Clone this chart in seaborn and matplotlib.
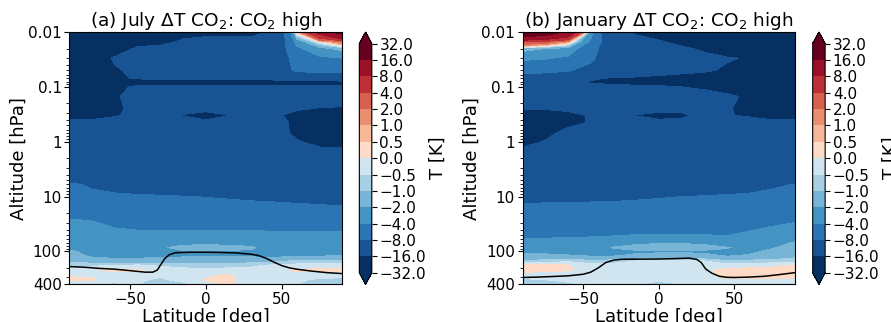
import numpy as np
import matplotlib
matplotlib.use("Agg")
import matplotlib.pyplot as plt
import seaborn as sns
from matplotlib.colors import ListedColormap, BoundaryNorm

# ---------------- data ----------------
lat = [-90, -75, -60, -45, -30, -15, 0, 15, 30, 45, 60, 75, 90]
pres = [0.01, 0.015, 0.02, 0.03, 0.05, 0.07, 0.085, 0.1, 0.15, 0.25, 0.33, 0.45,
        0.7, 1, 1.5, 3, 6, 10, 20, 30, 45, 70, 85, 100, 120, 150, 180, 220, 270,
        330, 400]

levels = [-32, -16, -8, -4, -2, -1, -0.5, 0, 0.5, 1, 2, 4, 8, 16, 32]

dT_july = [
    [-22, -22, -22, -21, -20, -18, -17.5, -17.5, -17.5, -15, 0.5, 10, 20],
    [-22, -22, -22, -18, -18, -15, -14, -14, -14, -13, -3, 0, 2],
    [-22, -22, -20, -15, -14, -13, -13, -13, -13, -12, -4.5, -2.5, -1.5],
    [-22, -22, -15, -13, -13, -13, -13, -13, -12, -12, -6, -4.5, -4],
    [-22, -21, -17, -14, -13, -13, -13, -12, -12, -12, -7, -7, -7],
    [-22, -20, -17, -15.5, -15, -15, -15, -15, -14.5, -14, -13, -12, -11],
    [-22, -22, -21, -20, -20, -20, -20, -20, -20, -20, -20, -20, -20],
    [-22, -22, -19, -14, -13, -13, -13, -13, -13, -13, -13, -13, -13],
    [-22, -22, -17, -13, -12, -12, -12, -12, -12, -12, -12, -12, -12],
    [-22, -22, -18, -13, -13, -13, -13, -13, -13, -13, -15, -16.5, -17],
    [-22, -22, -17, -13, -13, -16.5, -20, -16.2, -13, -14, -19, -20, -20],
    [-11, -11, -11, -12, -12, -12, -13, -12, -12, -12.5, -18, -20, -20],
    [-12, -12, -12, -12, -12, -12, -12, -12, -12, -12, -18, -20, -20],
    [-12, -12, -12, -12, -12, -12, -12, -12, -12, -12, -15, -19, -20],
    [-12, -12, -12, -12, -12, -12, -12, -12, -12, -12, -12, -13, -13],
    [-11.5, -11.5, -11.5, -11.5, -11.5, -11.5, -11.5, -11.5, -11.5, -11.5, -11.5, -11.5, -11.5],
    [-7.5, -8.5, -9.5, -10, -10, -10.5, -11, -11, -11, -11, -11, -11, -11],
    [-6.8, -7, -7.2, -7.5, -7.7, -7.9, -8.1, -8.3, -8.5, -8.7, -8.9, -9.1, -9.3],
    [-4.5, -4.8, -5.5, -5.5, -5.5, -5.5, -5.5, -5.8, -6, -6, -6.2, -6.4, -6.6],
    [-3.6, -3.8, -4.5, -4.6, -4.6, -4.6, -4.6, -4.6, -4.7, -4.8, -4.9, -5, -5],
    [-3.2, -3.3, -3.5, -3.8, -3.8, -3.8, -3.8, -3.8, -3.8, -3.9, -3.9, -3.9, -3.9],
    [-2.7, -2.8, -3, -3, -2.8, -2.4, -2.3, -2.4, -2.6, -3, -3.2, -3.2, -3.2],
    [-2.3, -2.5, -2.8, -2.8, -2.2, -1.6, -1.5, -1.6, -1.8, -2.8, -2.9, -2.9, -2.9],
    [-1.9, -2.2, -2.5, -2.6, -2.2, -2.1, -2.1, -2.1, -2.2, -2.6, -2.6, -2.6, -2.6],
    [-1.6, -2.2, -2.4, -2.4, -2.3, -2.2, -2.2, -2.2, -2.2, -2.3, -2.2, -2.1, -2],
    [-1.1, -1.4, -1.6, -1.5, -1.4, -1.3, -1.3, -1.3, -1.3, -1.2, -0.9, -0.8, -0.8],
    [-0.7, -0.6, -0.5, -0.4, -0.6, -0.7, -0.8, -0.7, -0.6, -0.4, -0.3, -0.3, -0.3],
    [-0.3, -0.05, 0.08, 0.06, -0.15, -0.3, -0.4, -0.3, -0.3, -0.2, 0.08, 0.12, 0.12],
    [-0.05, -0.1, -0.25, -0.3, -0.4, -0.3, -0.1, 0.05, -0.3, -0.3, -0.2, -0.25, -0.25],
    [0.1, 0.06, -0.3, -0.4, -0.6, -0.3, 0.05, 0.15, -0.3, -0.3, -0.4, -0.6, -0.7],
    [-0.6, -0.6, -0.6, -0.5, -0.8, -0.7, -0.2, 0.05, -0.3, -0.3, -0.5, -0.8, -0.8],
]

dT_january = [
    [25, 22, 14, -3, -13, -17, -18, -20, -21, -22, -22, -22, -22],
    [4, 3, 1, -4.5, -12, -13, -15.5, -17.5, -19, -21, -22, -22, -22],
    [-1.5, -2, -2.5, -6, -12, -12, -13, -15, -17, -19, -21, -22, -22],
    [-3.5, -3.8, -4.5, -7, -12, -12, -12, -13, -14, -15.5, -16.5, -20, -22],
    [-7, -7, -7.5, -10, -12, -12, -13, -14, -15, -17, -18, -21, -22],
    [-10, -10.5, -13, -15.5, -16.5, -17, -18, -19, -20, -20, -21, -22, -22],
    [-12, -12, -14, -16.5, -17, -18, -18, -19, -20, -21, -21, -22, -22],
    [-12, -12, -12, -13, -14, -14.5, -15, -16, -17, -18, -20, -22, -22],
    [-12, -12, -12, -12, -12, -12, -12, -12, -13, -15, -17, -22, -22],
    [-15.5, -15.5, -14, -12, -12, -12, -13, -13, -12, -15, -19, -22, -22],
    [-20, -20, -19, -15, -12, -16.3, -19, -18, -13, -15.5, -17, -20, -20],
    [-20, -20, -18, -15.5, -12, -12, -13, -12.5, -12, -12, -12, -13, -13],
    [-20, -18.5, -13, -12, -12, -12, -12, -12, -12, -12, -12, -12, -12],
    [-19, -15.5, -12, -12, -12, -12, -12, -12, -12, -12, -12, -12, -12],
    [-13, -12, -12, -12, -12, -12, -12, -12, -12, -12, -12, -12, -12],
    [-11.5, -11.5, -11.5, -11.5, -11.5, -11.5, -11.5, -11.5, -11.5, -11.5, -11.5, -11.5, -11.5],
    [-11, -11, -11, -11, -11, -11, -11, -11, -10.5, -10, -9.5, -8.5, -7.9],
    [-9, -8.9, -8.8, -8.7, -8.6, -8.4, -8.2, -8, -7.8, -7.5, -7.3, -7, -6.5],
    [-6, -6, -6, -6, -6, -6, -6, -5.9, -5.8, -5.6, -5.2, -4.9, -4.6],
    [-5.2, -5.2, -5.2, -5.2, -5.2, -5.2, -5.2, -5.1, -5, -4.9, -4.5, -4.3, -4.0],
    [-4.5, -4.5, -4.5, -4.5, -4.5, -4.4, -4.4, -4.4, -4.4, -4.3, -3.9, -3.4, -2.9],
    [-3.5, -3.5, -3.4, -3.2, -2.8, -2.3, -2.1, -2.1, -2.3, -3.2, -3, -2.4, -1.9],
    [-3.0, -3.0, -3.0, -2.8, -1.9, -1.5, -1.4, -1.4, -1.5, -1.9, -2.4, -2.1, -1.6],
    [-2.3, -2.4, -2.5, -2.6, -2.4, -2.2, -2.2, -2.2, -2.2, -2.3, -2.2, -1.8, -1.4],
    [-1.6, -1.7, -1.9, -2.1, -2.1, -1.8, -1.6, -1.6, -1.7, -2.1, -1.9, -1.5, -1.2],
    [-0.9, -0.8, -0.6, -0.8, -0.7, -0.5, -0.4, -0.4, -0.5, -0.9, -0.8, -0.8, -0.7],
    [0.12, 0.12, 0.05, -0.3, -0.3, -0.3, -0.3, -0.3, -0.3, -0.3, -0.2, -0.1, 0.05],
    [0.15, 0.12, 0.05, -0.2, -0.3, -0.2, -0.2, -0.3, -0.1, 0.15, 0.2, 0.2, 0.2],
    [-0.2, -0.3, -0.3, -0.3, -0.2, -0.2, -0.2, -0.2, -0.1, 0.15, 0.2, 0.2, 0.15],
    [-0.6, -0.5, -0.4, -0.3, -0.3, -0.2, -0.4, -0.3, -0.2, -0.05, -0.05, -0.1, -0.1],
    [-0.8, -0.7, -0.6, -0.4, -0.3, -0.5, -0.7, -0.5, -0.3, -0.3, -0.2, -0.2, -0.3],
]

trop_lat_july = [-90, -80, -70, -60, -50, -40, -35, -32, -30, -27, -24, -20, -10,
                 0, 10, 20, 30, 35, 40, 45, 50, 55, 60, 70, 80, 90]
trop_p_july = [190, 195, 205, 212, 225, 240, 240, 220, 180, 135, 115, 106, 104,
               104, 105, 107, 113, 120, 135, 158, 182, 200, 212, 230, 245, 255]

trop_lat_jan = [-90, -80, -70, -60, -50, -45, -40, -35, -30, -25, -20, -10, 0,
                10, 20, 25, 28, 31, 35, 40, 45, 50, 60, 70, 80, 90]
trop_p_jan = [300, 295, 288, 280, 262, 240, 200, 160, 145, 140, 139, 139, 138,
              136, 133, 140, 160, 210, 250, 285, 298, 300, 295, 285, 265, 245]

titles = ["(a) July \u0394T CO$_2$: CO$_2$ high",
          "(b) January \u0394T CO$_2$: CO$_2$ high"]
ytick_vals = [0.01, 0.1, 1, 10, 100, 400]
ytick_labels = ["0.01", "0.1", "1", "10", "100", "400"]

# ---------------- style ----------------
sns.set_style("ticks", {"axes.edgecolor": "black", "xtick.color": "black",
                        "ytick.color": "black", "text.color": "black",
                        "axes.labelcolor": "black"})
plt.rcParams["font.family"] = ["DejaVu Sans"]
plt.rcParams.update({
    "xtick.direction": "out", "ytick.direction": "out",
    "xtick.major.size": 3.5, "ytick.major.size": 3.5,
    "xtick.minor.size": 2, "ytick.minor.size": 2,
    "xtick.major.pad": 2, "ytick.major.pad": 2,
})

base = sns.color_palette("RdBu_r", as_cmap=True)
steps = np.linspace(0, 1, 16)
cols = base(np.concatenate([steps[:7], steps[9:]]))
cmap = ListedColormap(cols)
cmap.set_under(cols[0])
cmap.set_over(cols[-1])
norm = BoundaryNorm(levels, len(levels) - 1)

fig = plt.figure(figsize=(8.91, 3.22), dpi=100)
ax_pos = [[0.0778, 0.117, 0.3064, 0.7835], [0.5866, 0.117, 0.3056, 0.7835]]
cb_pos = [[0.4033, 0.117, 0.0140, 0.7835], [0.9121, 0.117, 0.0140, 0.7835]]

fields = [dT_july, dT_january]
trops = [(trop_lat_july, trop_p_july), (trop_lat_jan, trop_p_jan)]

LAT, P = np.meshgrid(lat, pres)
for i in range(2):
    ax = fig.add_axes(ax_pos[i])
    cf = ax.contourf(LAT, P, np.array(fields[i]), levels=levels, cmap=cmap,
                     norm=norm, extend="both")
    sns.lineplot(x=trops[i][0], y=trops[i][1], ax=ax, color="black",
                 linewidth=1.1, sort=False)
    ax.set_yscale("log")
    ax.set_ylim(400, 0.01)
    ax.set_xlim(-90, 90)
    ax.set_yticks(ytick_vals)
    ax.set_yticklabels(ytick_labels)
    ax.set_xticks([-50, 0, 50])
    ax.tick_params(labelsize=11)
    ax.set_xlabel("Latitude [deg]", fontsize=13, labelpad=1)
    ax.set_ylabel("Altitude [hPa]", fontsize=13, labelpad=0.5)
    ax.set_title(titles[i], fontsize=13.3, pad=2)
    for s in ax.spines.values():
        s.set_visible(True)
        s.set_color("black")

    cax = fig.add_axes(cb_pos[i])
    cb = fig.colorbar(cf, cax=cax)
    cb.set_ticks(levels)
    cb.ax.tick_params(labelsize=11)
    cb.set_label("T [K]", fontsize=13, labelpad=2)

fig.savefig("out.png", dpi=100)
